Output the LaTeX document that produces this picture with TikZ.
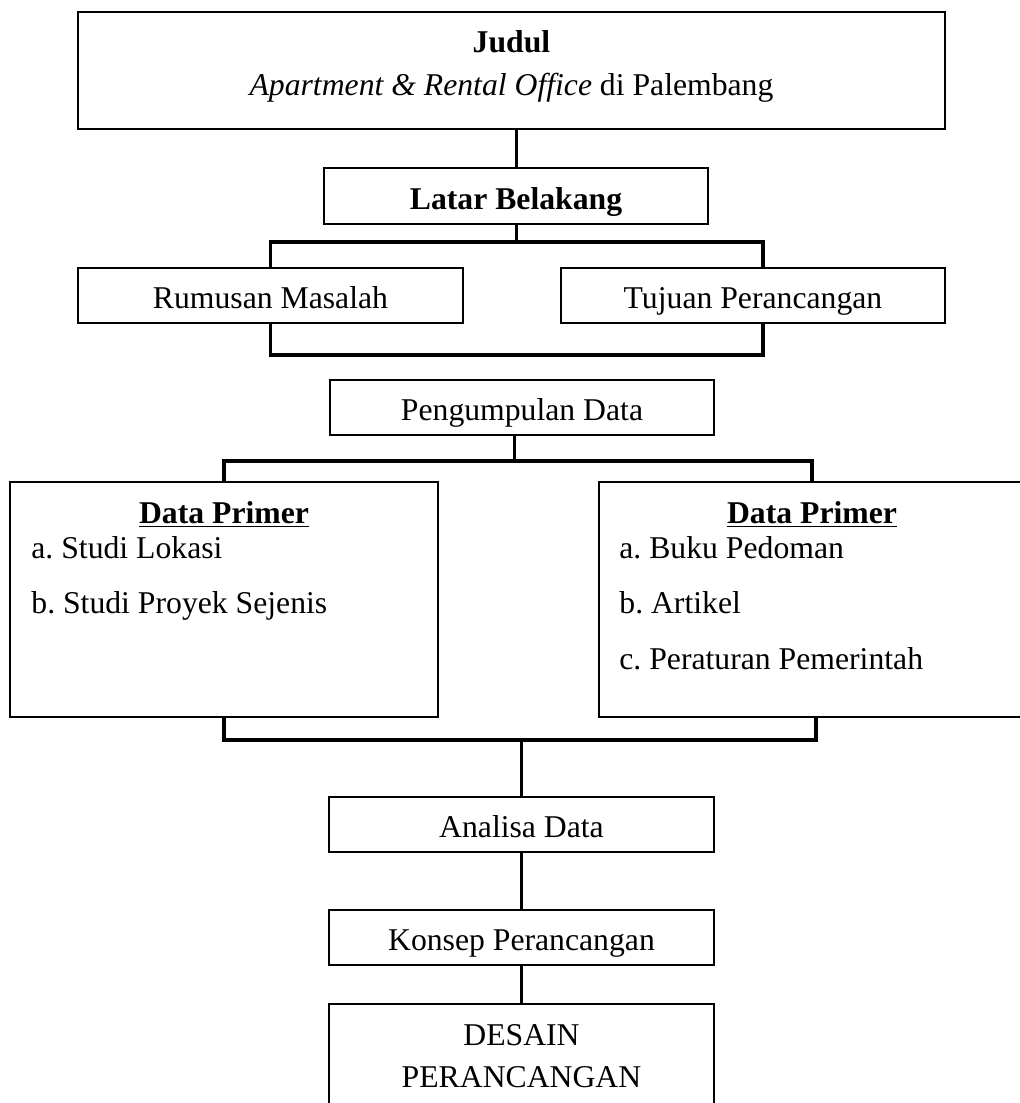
\documentclass[tikz,border=0pt]{standalone}
\usepackage{fontspec}
\setmainfont{Liberation Serif}
\usepackage{tikz}
\usetikzlibrary{calc}
\def\ukuran{\fontsize{15.85pt}{21.5pt}\selectfont}
\frenchspacing

\begin{document}
\begin{tikzpicture}[x=0.5pt, y=-0.5pt,
	kotak/.style={draw, line width=1.3pt, inner sep=0pt, font=\ukuran, text height=14pt, text depth=1pt},
	teks/.style={inner sep=0pt, font=\ukuran},
	garis/.style={line width=1.5pt},
	palang/.style={line width=1.8pt}]
		%%%%% START %%%%%
		
		\path[use as bounding box, fill=white] (0,0) rectangle (1020,1103);
		
		\node[kotak, minimum width=433.5pt, minimum height=58.5pt] (judul) at (511.5,70.5) {};
		\node[teks, anchor=base] (judulA) at (511.5,52) {\textbf{Judul}};
		\node[teks, anchor=base] (judulB) at (511.5,95) {\textit{Apartment \& Rental Office} di Palembang};
		
		\node[kotak, minimum width=192pt, minimum height=28pt] (latar) at (516,196) {\textbf{Latar Belakang}};
		\node[kotak, minimum width=192.5pt, minimum height=27.5pt] (rumusan) at (270.5,295.5) {Rumusan Masalah};
		\node[kotak, minimum width=192pt, minimum height=27.5pt] (tujuan) at (753,295.5) {Tujuan Perancangan};
		
		\node[kotak, minimum width=192pt, minimum height=27.5pt] (kumpul) at (522,407.5) {Pengumpulan Data};
		
		\node[kotak, minimum width=214pt, minimum height=117.5pt] (primer1) at (224,599.5) {};
		\node[kotak, minimum width=213pt, minimum height=117.5pt] (primer2) at (812,599.5) {};
		
		\node[teks, anchor=base] (judul1) at (224,523) {\textbf{\underline{Data Primer}}};
		\node[teks, anchor=base west] (item1a) at (31,558) {a. Studi Lokasi};
		\node[teks, anchor=base west] (item1b) at (31,613) {b. Studi Proyek Sejenis};
		
		\node[teks, anchor=base] (judul2) at (812,523) {\textbf{\underline{Data Primer}}};
		\node[teks, anchor=base west] (item2a) at (619,558) {a. Buku Pedoman};
		\node[teks, anchor=base west] (item2b) at (619,613) {b. Artikel};
		\node[teks, anchor=base west] (item2c) at (619,669) {c. Peraturan Pemerintah};
		
		\node[kotak, minimum width=192.5pt, minimum height=27.5pt] (analisa) at (521.5,824.5) {Analisa Data};
		\node[kotak, minimum width=192.5pt, minimum height=27.5pt] (konsep) at (521.5,937.5) {Konsep Perancangan};
		
		\node[kotak, minimum width=192.5pt, minimum height=63pt] (desain) at (521.5,1067) {};
		\node[teks, anchor=base] (desainA) at (521.5,1045) {DESAIN};
		\node[teks, anchor=base] (desainB) at (521.5,1087) {PERANCANGAN};
		
		\coordinate (cab1) at (516,242);
		\coordinate (gab1) at (516,355);
		\coordinate (cab2) at (514,461);
		\coordinate (gab2) at (521.5,740);
		
		\draw[garis] (latar.north) -- (latar.north |- judul.south);
		\draw[garis] (latar.south) -- (cab1);
		\draw[palang] (rumusan.north) |- (cab1) -| ([xshift=5pt]tujuan.north);
		\draw[palang] (rumusan.south) |- (gab1) -| ([xshift=5pt]tujuan.south);
		
		\draw[garis] (kumpul.south -| cab2) -- (cab2);
		\draw[palang] (primer1.north) |- (cab2) -| (primer2.north);
		\draw[palang] (primer1.south) |- (gab2) -| ([xshift=2pt]primer2.south);
		
		\draw[garis] (gab2) -- (analisa.north);
		\draw[garis] (analisa.south) -- (konsep.north);
		\draw[garis] (konsep.south) -- (desain.north);
		
		%%%%% END %%%%%
	\end{tikzpicture}
\end{document}
